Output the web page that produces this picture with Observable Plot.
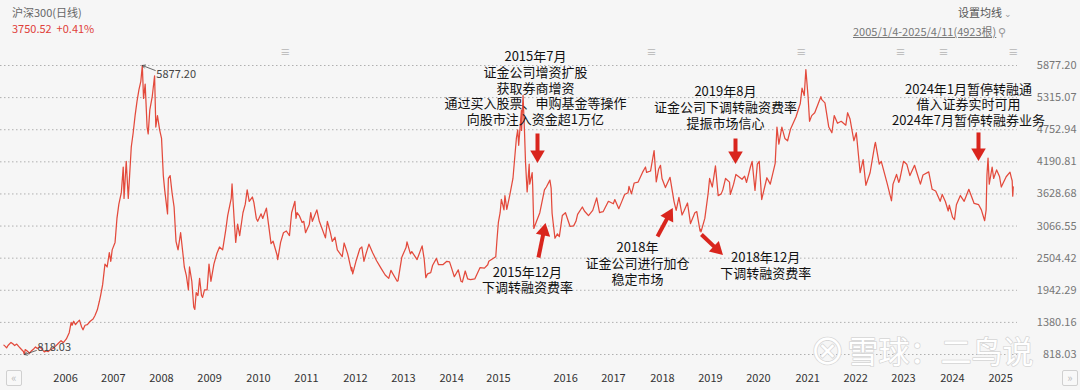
<!DOCTYPE html>
<html><head><meta charset="utf-8">
<script src="https://cdn.jsdelivr.net/npm/d3@7"></script>
<script src="https://cdn.jsdelivr.net/npm/@observablehq/plot@0.6"></script>
<style>
html,body{margin:0;padding:0;background:#f6f6f6;}
#wrap{position:relative;width:1080px;height:390px;overflow:hidden;background:#f6f6f6;font-family:"Noto Sans CJK SC","Noto Sans",sans-serif;}
#hdr{position:relative;height:40px;}
.h{position:absolute;white-space:nowrap;font-size:11px;line-height:14px;}
#chart{position:absolute;left:0;top:40px;}
.btn{position:absolute;width:14px;height:14px;border:1px solid #d0d0d0;border-radius:2px;color:#bbb;font-size:11px;line-height:13px;text-align:center;background:#f8f8f8;}
</style></head>
<body><div id="wrap">
<div id="hdr">
  <div class="h" style="left:12px;top:5px;color:#666;">沪深300(日线)</div>
  <div class="h" style="left:12px;top:21px;color:#e0403a;">3750.52&nbsp;&nbsp;+0.41%</div>
  <div class="h" style="left:958px;top:5px;color:#555;">设置均线 <span style="color:#999;font-size:9px">⌄</span></div>
  <div class="h" style="left:853px;top:24px;color:#777;text-decoration:underline;">2005/1/4-2025/4/11(4923根)</div>
  <div class="h" style="left:998px;top:24px;color:#999;">⚲</div>
</div>
<div id="chart"></div>
<div class="btn" style="left:6px;top:370px;">«</div>
<div class="btn" style="left:1062px;top:370px;">»</div>
</div>
<script>
// ---- CSI 300 daily closes ----
const dates = [
"2005-01-04","2005-01-14","2005-01-24","2005-02-03","2005-02-25","2005-03-10","2005-03-24","2005-04-08","2005-04-22","2005-05-13","2005-05-27","2005-06-03","2005-06-09","2005-06-24","2005-07-11","2005-07-26","2005-08-12","2005-08-24","2005-09-06","2005-09-23","2005-10-14","2005-10-27","2005-11-11","2005-11-25","2005-12-12","2005-12-30",
"2006-01-16","2006-02-06","2006-02-27","2006-03-16","2006-04-07","2006-04-28","2006-05-12","2006-05-19","2006-05-31","2006-06-13","2006-06-30","2006-07-12","2006-07-28","2006-08-07","2006-08-22","2006-09-08","2006-09-29","2006-10-20","2006-11-03","2006-11-20","2006-12-05","2006-12-14","2006-12-29",
"2007-01-15","2007-01-31","2007-02-16","2007-02-27","2007-03-09","2007-03-30","2007-04-13","2007-04-27","2007-05-15","2007-05-29","2007-06-04","2007-06-20","2007-07-05","2007-07-27","2007-08-10","2007-08-24","2007-09-07","2007-09-21","2007-10-05","2007-10-16","2007-10-25","2007-11-06","2007-11-20","2007-11-28","2007-12-10","2007-12-28",
"2008-01-14","2008-01-23","2008-02-04","2008-02-20","2008-03-05","2008-03-18","2008-03-28","2008-04-18","2008-04-24","2008-05-07","2008-05-21","2008-06-05","2008-06-19","2008-07-04","2008-07-23","2008-08-08","2008-08-19","2008-09-03","2008-09-18","2008-09-26","2008-10-13","2008-10-27","2008-11-04","2008-11-14","2008-11-27","2008-12-09","2008-12-23","2008-12-31",
"2009-01-14","2009-02-02","2009-02-16","2009-03-02","2009-03-24","2009-04-14","2009-05-04","2009-05-27","2009-06-19","2009-07-03","2009-07-29","2009-08-04","2009-08-19","2009-08-31","2009-09-14","2009-09-29","2009-10-23","2009-11-09","2009-11-23","2009-12-08","2009-12-31",
"2010-01-11","2010-01-29","2010-02-08","2010-03-05","2010-03-17","2010-04-13","2010-04-30","2010-05-17","2010-06-01","2010-06-30","2010-07-05","2010-07-26","2010-08-16","2010-09-06","2010-09-29","2010-10-15","2010-11-08","2010-11-16","2010-11-24","2010-12-10","2010-12-31",
"2011-01-12","2011-01-25","2011-02-22","2011-03-04","2011-03-16","2011-04-18","2011-05-06","2011-06-20","2011-07-04","2011-07-26","2011-08-09","2011-08-29","2011-09-15","2011-10-21","2011-11-04","2011-11-30","2011-12-28","2011-12-30",
"2012-01-06","2012-01-31","2012-02-27","2012-03-13","2012-03-28","2012-04-12","2012-05-04","2012-05-31","2012-06-29","2012-07-31","2012-08-31","2012-09-26","2012-10-12","2012-11-27","2012-12-03","2012-12-31",
"2013-01-31","2013-02-07","2013-03-04","2013-03-14","2013-04-22","2013-05-29","2013-06-13","2013-06-25","2013-07-08","2013-07-31","2013-08-14","2013-09-11","2013-09-26","2013-10-28","2013-11-26","2013-12-16","2013-12-31",
"2014-01-20","2014-02-18","2014-03-10","2014-03-20","2014-04-10","2014-04-28","2014-05-19","2014-06-19","2014-07-28","2014-08-29","2014-09-22","2014-09-30","2014-10-31","2014-11-20","2014-11-28","2014-12-09","2014-12-22","2014-12-31",
"2015-01-09","2015-01-19","2015-01-26","2015-02-09","2015-03-02","2015-03-26","2015-04-20","2015-04-30","2015-05-07","2015-05-27","2015-05-28","2015-06-08","2015-06-19","2015-06-26","2015-07-08","2015-07-23","2015-07-27","2015-08-14","2015-08-18","2015-08-26","2015-09-15","2015-10-09","2015-11-12","2015-11-26","2015-12-22","2015-12-31",
"2016-01-04","2016-01-07","2016-01-15","2016-01-28","2016-02-15","2016-02-29","2016-03-22","2016-04-14","2016-05-18","2016-06-13","2016-06-30","2016-07-12","2016-08-16","2016-08-31","2016-09-30","2016-10-31","2016-11-29","2016-12-20","2016-12-30",
"2017-01-16","2017-02-23","2017-03-31","2017-04-11","2017-05-10","2017-05-31","2017-06-22","2017-07-17","2017-07-24","2017-08-11","2017-08-31","2017-09-29","2017-10-31","2017-11-22","2017-11-30","2017-12-29",
"2018-01-24","2018-02-09","2018-02-26","2018-03-12","2018-03-23","2018-04-17","2018-05-21","2018-06-19","2018-07-05","2018-07-25","2018-08-17","2018-08-31","2018-09-26","2018-10-18","2018-11-19","2018-12-03","2018-12-27","2018-12-31",
"2019-01-03","2019-01-31","2019-02-25","2019-03-07","2019-03-27","2019-04-19","2019-05-09","2019-05-31","2019-06-12","2019-07-02","2019-07-31","2019-08-06","2019-08-30","2019-09-16","2019-10-31","2019-11-19","2019-12-03","2019-12-31",
"2020-01-13","2020-02-03","2020-02-20","2020-03-05","2020-03-23","2020-04-30","2020-05-25","2020-06-30","2020-07-13","2020-07-27","2020-08-18","2020-09-09","2020-09-29","2020-10-20","2020-11-30","2020-12-31",
"2021-01-13","2021-01-29","2021-02-10","2021-02-26","2021-03-09","2021-03-25","2021-04-16","2021-05-31","2021-06-07","2021-06-30","2021-07-28","2021-08-20","2021-09-06","2021-09-30","2021-10-27","2021-11-30","2021-12-13","2021-12-31",
"2022-01-28","2022-02-15","2022-03-15","2022-04-06","2022-04-26","2022-05-27","2022-06-30","2022-07-05","2022-08-02","2022-08-17","2022-09-30","2022-10-31","2022-11-11","2022-12-07","2022-12-23","2022-12-30",
"2023-01-27","2023-02-20","2023-03-15","2023-04-18","2023-05-31","2023-06-19","2023-07-31","2023-08-25","2023-09-20","2023-10-23","2023-11-07","2023-11-30","2023-12-21","2023-12-29",
"2024-01-22","2024-02-05","2024-02-19","2024-03-19","2024-04-16","2024-05-20","2024-06-28","2024-07-31","2024-08-20","2024-09-13","2024-09-24","2024-09-30","2024-10-08","2024-10-17","2024-11-07","2024-11-18","2024-12-10","2024-12-31",
"2025-01-13","2025-02-18","2025-03-18","2025-03-28","2025-04-03","2025-04-07","2025-04-11"
];
const closes = [
982,960,935,975,1030,1005,975,1000,960,905,870,818.03,905,880,840,885,920,950,925,955,900,865,880,870,905,923,
960,1010,1060,1025,1090,1200,1380,1330,1400,1340,1390,1420,1300,1250,1330,1340,1400,1440,1500,1600,1750,1850,2041,
2400,2350,2600,2450,2650,2780,3200,3450,3650,4100,3550,4200,3550,4450,4700,5000,5250,5450,5600,5877.20,5300,5550,4800,4680,5100,5338,
5697,4800,5000,4750,4600,3950,3700,3280,3900,3950,3650,3400,2800,2650,2950,2600,2350,2200,1950,2350,2100,1650,1607,1900,1850,2150,1850,1817,
1950,1950,2400,2100,2400,2580,2700,2650,3000,3250,3550,3803,3200,2780,3100,2900,3300,3450,3700,3500,3575,
3480,3200,3150,3280,3200,3380,3070,2760,2800,2560,2480,2780,2950,2980,2900,3300,3500,3200,3300,3250,3128,
3150,2950,3100,3300,3150,3350,3150,2860,3150,2950,2800,2870,2650,2530,2770,2580,2280,2345,
2230,2460,2670,2700,2450,2580,2750,2600,2460,2330,2210,2150,2290,2100,2108,2522,
2690,2790,2580,2620,2480,2720,2490,2164,2230,2250,2380,2500,2390,2390,2450,2440,2330,
2180,2300,2100,2086,2280,2140,2130,2140,2340,2330,2390,2450,2500,2530,2800,3130,3300,3533,
3450,3350,3600,3360,3600,3900,4600,4750,4480,5090,4740,5353,4700,4190,3663,4150,3800,4000,3750,3025,3150,3300,3700,3750,3870,3731,
3470,3290,3120,2853,2930,2880,3250,3300,3060,3070,3150,3270,3400,3330,3250,3340,3560,3300,3310,
3320,3500,3456,3530,3370,3490,3620,3650,3760,3630,3820,3836,4006,4100,4006,4030,
4389,3840,4060,4130,3900,3740,3920,3500,3340,3570,3260,3330,3470,3110,3300,3320,2980,3010,
2965,3200,3650,3900,3750,4120,3600,3630,3700,3900,3835,3620,3800,3970,3886,3940,3830,4096,
4200,3690,4150,4200,3530,3912,3800,4164,4800,4500,4800,4600,4560,4760,4980,5211,
5480,5350,5807,5340,4900,5000,5050,5331,5280,5224,4800,4700,5000,4866,4900,4832,5050,4940,
4560,4700,4000,4230,3780,4000,4485,4530,4150,4200,3804,3509,3800,3970,3830,3872,
4200,4150,3950,4130,3800,3960,4015,3710,3680,3500,3620,3496,3330,3431,
3220,3180,3440,3600,3500,3710,3462,3440,3350,3160,3350,3960,4256,3800,4100,3900,4050,3935,
3750,3930,4010,3910,3860,3589,3750.52
];

// y-axis ticks (price levels shown on the right)
const yTicks = [818.03,1380.16,1942.29,2504.42,3066.55,3628.68,4190.81,4752.94,5315.07,5877.20];
// x-axis year labels and where they sit on the time axis
const xTickLabels = ["2006","2007","2008","2009","2010","2011","2012","2013","2014","2015","2016","2017","2018","2019","2020","2021","2022","2023","2024","2025"];
const xTickDates  = ["2006-04-01","2007-03-17","2008-03-04","2009-02-20","2010-02-14","2011-02-01","2012-01-26","2013-01-12","2013-12-31","2014-12-10","2016-04-15","2017-04-01","2018-03-26","2019-03-13","2020-02-28","2021-02-23","2022-02-10","2023-01-27","2024-01-21","2025-01-08"];
const xDomain = ["2004-12-10","2025-05-12"];

// annotations
const noteTexts = [
 "2015年7月\n证金公司增资扩股\n获取券商增资\n通过买入股票、申购基金等操作\n向股市注入资金超1万亿",
 "2019年8月\n证金公司下调转融资费率\n提振市场信心",
 "2024年1月暂停转融通\n借入证券实时可用\n2024年7月暂停转融券业务",
 "2015年12月\n下调转融资费率",
 "2018年\n证金公司进行加仓\n稳定市场",
 "2018年12月\n下调转融资费率"
];
const noteDates  = ["2015-09-07","2019-07-01","2024-05-18","2015-07-10","2017-09-24","2020-04-21"];
const noteValues = [5492,5151,5195,2131,2420,2385];

// red arrows: tail -> tip
const arrowTailDates  = ["2015-09-22","2015-09-29","2018-02-18","2019-01-06","2019-09-13","2024-07-30"];
const arrowTailValues = [4687,2516,2884,2919,4599,4705];
const arrowTipDates   = ["2015-09-22","2015-11-19","2018-06-08","2019-06-10","2019-09-13","2024-07-30"];
const arrowTipValues  = [4179,3111,3374,2569,4162,4214];

// extreme labels
const extremeLabels = ["5877.20","818.03"];
const extremeDates  = ["2007-10-16","2005-06-03"];
const extremeValues = [5877.20,818.03];
const extremeTailDates  = ["2008-01-19","2005-08-30"];
const extremeTailValues = [5790,888];
const extremeTextDates  = ["2008-01-27","2005-09-07"];
const extremeTextValues = [5720,941];

// small event markers along the top
const eventDates = ["2010-08-29","2018-01-05","2021-01-08","2023-01-05","2023-11-17","2025-04-11"];

const watermark = ["雪球：二鸟说"];

// ---- build ----
const series = dates.map((d,i)=>({date:new Date(d), close:closes[i]}));
const labelOf = new Map(xTickDates.map((d,i)=>[+new Date(d), xTickLabels[i]]));
const notes = noteTexts.map((t,i)=>({text:t, date:new Date(noteDates[i]), value:noteValues[i]}));
const extremes = extremeLabels.map((t,i)=>({text:t, d:new Date(extremeDates[i]), v:extremeValues[i], td:new Date(extremeTailDates[i]), tv:extremeTailValues[i], xd:new Date(extremeTextDates[i]), xv:extremeTextValues[i]}));
const RED = "#d9251d";
const FONT = "'Noto Sans CJK SC','Noto Sans',sans-serif";

function build(extra){
  return Plot.plot({
    width:1080, height:350,
    marginTop:25, marginBottom:36, marginLeft:0, marginRight:63,
    style:{background:"transparent", fontFamily:FONT, overflow:"visible"},
    x:{type:"utc", domain:xDomain.map(d=>new Date(d))},
    y:{domain:[yTicks[0], yTicks[yTicks.length-1]]},
    marks:[
      Plot.gridY(yTicks, {stroke:"#b0b0b0", strokeOpacity:1, strokeDasharray:"1.5,2.5"}),
      Plot.text(yTicks, {y:d=>d, text:d=>d3.format(".2f")(d), frameAnchor:"right", textAnchor:"end", dx:59, fill:"#777", fontSize:11}),
      Plot.axisX(xTickDates.map(d=>new Date(d)), {anchor:"bottom", tickSize:0, tickPadding:20, tickFormat:d=>labelOf.get(+d), fill:"#333", fontSize:11, label:null}),
      Plot.text(eventDates, {x:d=>new Date(d), frameAnchor:"top", dy:-17, text:()=>"≡", fill:"#b5b5b5", fontSize:10}),
      Plot.line(series, {x:"date", y:"close", stroke:"#e34a3c", strokeWidth:1.25}),
      Plot.arrow(extremes, {x1:"td", y1:"tv", x2:"d", y2:"v", stroke:"#444", strokeWidth:0.8, headLength:6}),
      Plot.text(extremes, {x:"xd", y:"xv", text:"text", textAnchor:"start", fill:"#444", fontSize:11}),
      Plot.text(notes, {x:"date", y:"value", text:"text", textAnchor:"middle", lineAnchor:"middle", lineHeight:1.2, fontSize:13, fill:"#111"}),
      Plot.text(watermark, {frameAnchor:"bottom-right", textAnchor:"end", lineAnchor:"middle", dx:16, dy:-1, fontSize:31, fill:"#ffffff", stroke:"#d5d5d5", strokeWidth:1.5, paintOrder:"stroke"}),
      Plot.text(["⊗"], {frameAnchor:"bottom-right", textAnchor:"middle", lineAnchor:"middle", dx:-190, dy:-1, fontSize:36, fill:"#ffffff", stroke:"#d5d5d5", strokeWidth:1.5, paintOrder:"stroke"}),
      ...extra
    ]
  });
}

const base = build([]);
const sx = base.scale("x"), sy = base.scale("y");
const heads = arrowTailDates.map((d,i)=>{
  const x0=sx.apply(new Date(d)), y0=sy.apply(arrowTailValues[i]);
  const x1=sx.apply(new Date(arrowTipDates[i])), y1=sy.apply(arrowTipValues[i]);
  const L=Math.hypot(x1-x0,y1-y0), ux=(x1-x0)/L, uy=(y1-y0)/L;
  const cx=x1-ux*7.8, cy=y1-uy*7.8;
  return {tail:new Date(d), tailV:arrowTailValues[i], date:sx.invert(cx), value:sy.invert(cy), rot:Math.atan2(ux,-uy)*180/Math.PI};
});
const chart = build([
  Plot.link(heads, {x1:"tail", y1:"tailV", x2:"date", y2:"value", stroke:RED, strokeWidth:4}),
  Plot.dot(heads, {x:"date", y:"value", symbol:"triangle", r:5.4, rotate:"rot", fill:RED, stroke:"none"})
]);
document.getElementById("chart").appendChild(chart);
</script>
</body></html>
